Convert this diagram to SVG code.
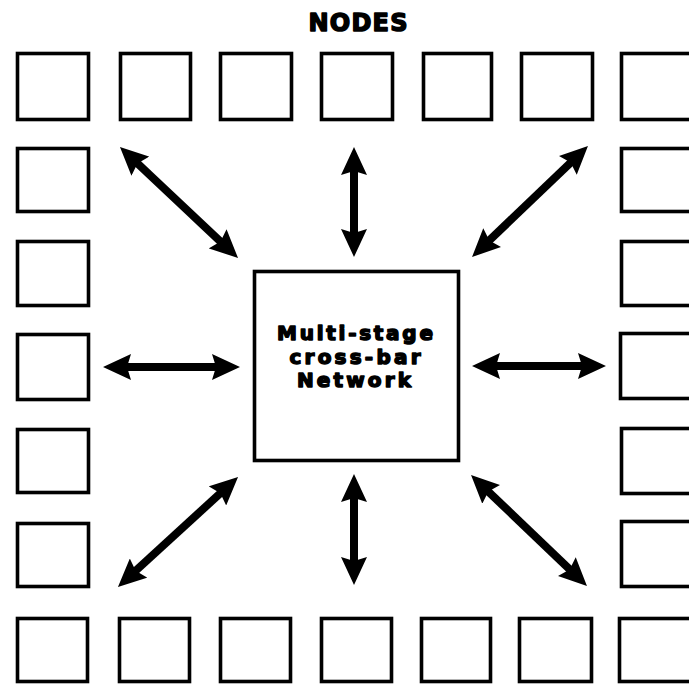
<svg xmlns="http://www.w3.org/2000/svg" width="689" height="684" viewBox="0 0 689 684">
  <style>
    .node { fill: #fff; stroke: #000; stroke-width: 3.6; }
    .hub { fill: #fff; stroke: #000; stroke-width: 3.6; }
    .label { font-family: "DejaVu Sans", "Liberation Sans", sans-serif; font-weight: bold; fill: #000; stroke: #000; stroke-width: 1.5; stroke-linejoin: round; text-anchor: middle; }
    .link { stroke: #000; stroke-width: 8; fill: none; marker-start: url(#head); marker-end: url(#head); }
  </style>
  <defs>
    <!-- solid arrowhead; tip sits 12px beyond the end of the shaft -->
    <marker id="head" viewBox="0 0 28 26" refX="16" refY="13" markerWidth="28" markerHeight="26" markerUnits="userSpaceOnUse" orient="auto-start-reverse">
      <path d="M0,0 L28,13 L0,26 L4,13 Z" fill="#000"/>
    </marker>
  </defs>

  <rect width="689" height="684" fill="#fff"/>

  <text class="label" x="358" y="31" font-size="24" textLength="99" lengthAdjust="spacing">NODES</text>

  <!-- top row -->
  <g id="node-t1"><rect class="node" x="17.5" y="53.5" width="71" height="66"/></g>
  <g id="node-t2"><rect class="node" x="120.5" y="53.5" width="70" height="66"/></g>
  <g id="node-t3"><rect class="node" x="220.5" y="53.5" width="71" height="66"/></g>
  <g id="node-t4"><rect class="node" x="321.5" y="53.5" width="71" height="66"/></g>
  <g id="node-t5"><rect class="node" x="423.5" y="53.5" width="68" height="66"/></g>
  <g id="node-t6"><rect class="node" x="521.5" y="53.5" width="71" height="66"/></g>
  <g id="node-t7"><rect class="node" x="621.5" y="53.5" width="72" height="66"/></g>

  <!-- left column -->
  <g id="node-l1"><rect class="node" x="17.5" y="148.5" width="71" height="63"/></g>
  <g id="node-l2"><rect class="node" x="17.5" y="241.5" width="71" height="64"/></g>
  <g id="node-l3"><rect class="node" x="17.5" y="334.5" width="71" height="65"/></g>
  <g id="node-l4"><rect class="node" x="17.5" y="429.5" width="71" height="63"/></g>
  <g id="node-l5"><rect class="node" x="17.5" y="523.5" width="71" height="63"/></g>

  <!-- right column -->
  <g id="node-r1"><rect class="node" x="621.5" y="148.5" width="72" height="63"/></g>
  <g id="node-r2"><rect class="node" x="621.5" y="241.5" width="72" height="64"/></g>
  <g id="node-r3"><rect class="node" x="620.5" y="333.5" width="72" height="65"/></g>
  <g id="node-r4"><rect class="node" x="621.5" y="428.5" width="72" height="65"/></g>
  <g id="node-r5"><rect class="node" x="621.5" y="521.5" width="72" height="65"/></g>

  <!-- bottom row -->
  <g id="node-b1"><rect class="node" x="17.5" y="618.5" width="70" height="63"/></g>
  <g id="node-b2"><rect class="node" x="119.5" y="618.5" width="70" height="63"/></g>
  <g id="node-b3"><rect class="node" x="220.5" y="618.5" width="70" height="63"/></g>
  <g id="node-b4"><rect class="node" x="321.5" y="618.5" width="70" height="63"/></g>
  <g id="node-b5"><rect class="node" x="421.5" y="618.5" width="69" height="63"/></g>
  <g id="node-b6"><rect class="node" x="519.5" y="618.5" width="72" height="63"/></g>
  <g id="node-b7"><rect class="node" x="619.5" y="618.5" width="74" height="63"/></g>

  <!-- central switch -->
  <g id="network">
    <rect class="hub" x="254.5" y="271.5" width="204" height="189"/>
    <text class="label" font-size="20" x="355" y="340" textLength="156" lengthAdjust="spacing">Multi-stage</text>
    <text class="label" font-size="20" x="355" y="363.5" textLength="131" lengthAdjust="spacing">cross-bar</text>
    <text class="label" font-size="20" x="354" y="387" textLength="114" lengthAdjust="spacing">Network</text>
  </g>

  <!-- bidirectional links between the nodes and the network -->
  <g id="links">
    <line class="link" x1="128.7" y1="155.2" x2="229.3" y2="249.8"/>
    <line class="link" x1="354" y1="159" x2="354" y2="245"/>
    <line class="link" x1="579.3" y1="154.3" x2="480.7" y2="248.7"/>
    <line class="link" x1="115" y1="367" x2="228" y2="367"/>
    <line class="link" x1="484" y1="366" x2="594" y2="366"/>
    <line class="link" x1="229.2" y1="485.1" x2="126.8" y2="578.9"/>
    <line class="link" x1="354" y1="486" x2="354" y2="573"/>
    <line class="link" x1="479.7" y1="483.3" x2="578.3" y2="577.7"/>
  </g>
</svg>
